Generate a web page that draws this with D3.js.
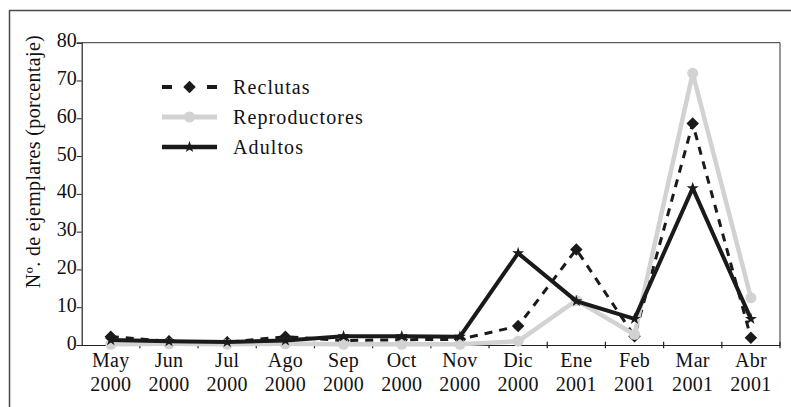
<!DOCTYPE html>
<html><head><meta charset="utf-8">
<script src="https://cdn.jsdelivr.net/npm/d3@7"></script>
<style>html,body{margin:0;padding:0;background:#fff;}svg{display:block;}</style>
</head><body>
<svg id="chart" width="791" height="407"></svg>
<script>
const months = ["May","Jun","Jul","Ago","Sep","Oct","Nov","Dic","Ene","Feb","Mar","Abr"];
const years  = ["2000","2000","2000","2000","2000","2000","2000","2000","2001","2001","2001","2001"];
const reclutas      = [2.2, 1.0, 0.7, 2.2, 1.2, 1.4, 1.5, 5.0, 25.3, 2.3, 58.6, 1.9];
const reproductores = [0.2, 0.3, 0.2, 0.3, 0.2, 0.2, 0.2, 1.0, 11.8, 2.8, 71.9, 12.5];
const adultos       = [1.3, 1.0, 0.8, 1.2, 2.3, 2.3, 2.2, 24.3, 11.6, 6.9, 41.5, 6.9];
const yTicks = [0,10,20,30,40,50,60,70,80];
const seriesNames = ["Reclutas","Reproductores","Adultos"];
const yLabel = "Nº. de ejemplares (porcentaje)";

const FONT = '"Liberation Serif", "Times New Roman", Times, serif';
const svg = d3.select("#chart");
const L = 81.7, R = 780, T = 42.7, B = 345;
const x = d3.scaleBand().domain(d3.range(months.length)).range([L, R]);
const y = d3.scaleLinear().domain([0, 80]).range([B, T]);
const cx = i => x(i) + x.bandwidth()/2;
const styleText = sel => sel.style("font-family", FONT).style("font-size", "20px").attr("fill", "#111");

// outer frame (clipped at right/bottom)
svg.append("rect").attr("x",9.5).attr("y",10.5).attr("width",800).attr("height",420)
  .attr("fill","none").attr("stroke","#4a4a4a").attr("stroke-width",1.5);

// plot frame top & right
svg.append("path").attr("d",`M${L},${T}H${R}V${B}`).attr("fill","none").attr("stroke","#333").attr("stroke-width",1);

// y axis
const yAxis = d3.axisLeft(y).tickValues(yTicks).tickSize(5).tickPadding(0).tickFormat(d3.format("d"));
const gy = svg.append("g").attr("transform",`translate(${L},0)`).call(yAxis);
gy.select(".domain").attr("stroke","#222").attr("stroke-width",1.2);
gy.selectAll(".tick line").attr("stroke","#222");
gy.selectAll(".tick text").call(styleText).attr("dy","0.2em");

// x axis
const xAxis = d3.axisBottom(x).tickSize(0).tickFormat(() => "");
const gx = svg.append("g").attr("transform",`translate(0,${B})`).call(xAxis);
gx.select(".domain").attr("stroke","#222").attr("stroke-width",1.2);
const bounds = d3.range(1, months.length+1).map(i => L + i*x.step());
svg.append("g").selectAll("line").data(bounds).join("line")
  .attr("x1",d=>d).attr("x2",d=>d).attr("y1",B-3.3).attr("y2",B+3.3)
  .attr("stroke","#222").attr("stroke-width",1.2);
// x labels
const xl = svg.append("g").attr("text-anchor","middle");
months.forEach((m,i)=>{
  const t = xl.append("text").attr("x",cx(i)).call(styleText).attr("letter-spacing","0.3");
  t.append("tspan").attr("x",cx(i)).attr("y",366.5).text(m);
  t.append("tspan").attr("x",cx(i)).attr("y",390.5).text(years[i]);
});

// y label
svg.append("text").attr("transform","translate(40,161.5) rotate(-90)")
  .attr("text-anchor","middle").call(styleText)
  .attr("letter-spacing","0.35").text(yLabel);

const line = d3.line().x((d,i)=>cx(i)).y(d=>y(d));
const GREY = "#d2d2d2", BLK = "#1a1a1a";
const diamond = d3.symbol().type(d3.symbolSquare).size(78);
const star = d3.symbol().type(d3.symbolStar).size(45);

// Reclutas (drawn first)
svg.append("path").datum(reclutas).attr("d",line).attr("fill","none")
  .attr("stroke",BLK).attr("stroke-width",3).attr("stroke-dasharray","8,7");
svg.append("g").selectAll("path").data(reclutas).join("path")
  .attr("d",diamond).attr("fill",BLK)
  .attr("transform",(d,i)=>`translate(${cx(i)},${y(d)}) rotate(45)`);

// Reproductores
svg.append("path").datum(reproductores).attr("d",line).attr("fill","none")
  .attr("stroke",GREY).attr("stroke-width",4.5).attr("stroke-linejoin","miter");
svg.append("g").selectAll("circle").data(reproductores).join("circle")
  .attr("cx",(d,i)=>cx(i)).attr("cy",d=>y(d)).attr("r",5.5).attr("fill",GREY);

// Adultos
svg.append("path").datum(adultos).attr("d",line).attr("fill","none")
  .attr("stroke",BLK).attr("stroke-width",4).attr("stroke-linejoin","miter");
svg.append("g").selectAll("path").data(adultos).join("path")
  .attr("d",star).attr("fill",BLK)
  .attr("transform",(d,i)=>`translate(${cx(i)},${y(d)})`);

// legend
const lg = svg.append("g");
const rows = [87, 117, 147];
const lx1 = 162, lx2 = 217, lmid = 189.5;
lg.append("line").attr("x1",lx1).attr("x2",lx2).attr("y1",rows[0]).attr("y2",rows[0])
  .attr("stroke",BLK).attr("stroke-width",4).attr("stroke-dasharray","10,35");
lg.append("path").attr("d",diamond).attr("fill",BLK).attr("transform",`translate(${lmid},${rows[0]}) rotate(45)`);
lg.append("line").attr("x1",lx1).attr("x2",lx2).attr("y1",rows[1]).attr("y2",rows[1])
  .attr("stroke",GREY).attr("stroke-width",5);
lg.append("circle").attr("cx",lmid).attr("cy",rows[1]).attr("r",5.5).attr("fill",GREY);
lg.append("line").attr("x1",lx1).attr("x2",lx2).attr("y1",rows[2]).attr("y2",rows[2])
  .attr("stroke",BLK).attr("stroke-width",4.5);
lg.append("path").attr("d",star).attr("fill",BLK).attr("transform",`translate(${lmid},${rows[2]})`);
seriesNames.forEach((n,i)=>{
  lg.append("text").attr("x",233).attr("y",rows[i]+6.5).call(styleText)
    .attr("letter-spacing","1.1").text(n);
});
</script>
</body></html>
